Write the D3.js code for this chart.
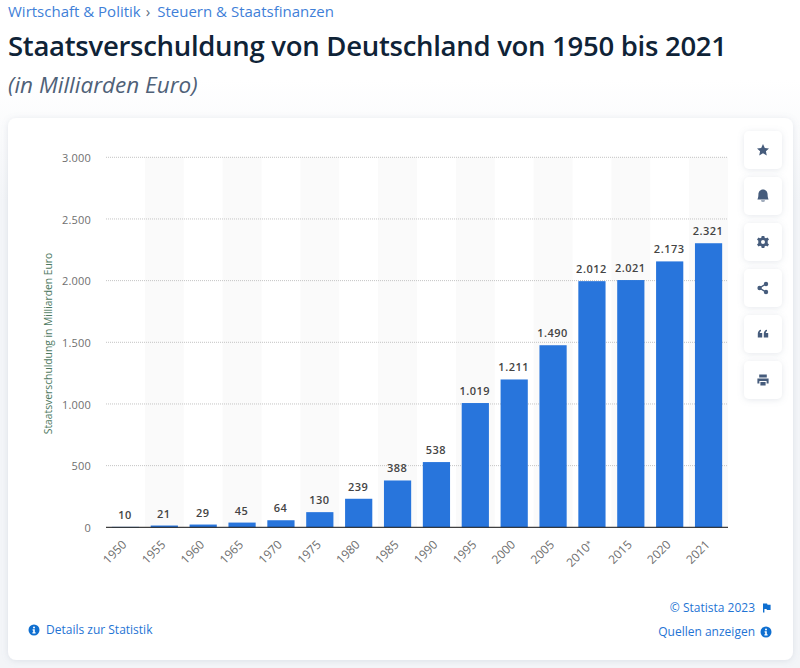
<!DOCTYPE html>
<html>
<head>
<meta charset="utf-8">
<title>Staatsverschuldung von Deutschland</title>
<script src="https://cdnjs.cloudflare.com/ajax/libs/d3/7.8.5/d3.min.js"></script>
<style>
    html, body { margin: 0; padding: 0; background: #f3f5f8; }
    svg { display: block; font-family: "Open Sans", sans-serif; }
    .domain { display: none; }
    .tick line { display: none; }
</style>
</head>
<body>
<svg id="chart" width="800" height="668"></svg>
<script>
var years = ["1950", "1955", "1960", "1965", "1970", "1975", "1980", "1985", "1990", "1995", "2000", "2005", "2010*", "2015", "2020", "2021"];
var debt = [10, 21, 29, 45, 64, 130, 239, 388, 538, 1019, 1211, 1490, 2012, 2021, 2173, 2321];
var yTicks = [0, 500, 1000, 1500, 2000, 2500, 3000];
// icons run top to bottom in the side bar
var sideIcons = ["star", "bell", "gear", "share", "quote", "print"];

var deFormat = d3.formatLocale({ decimal: ",", thousands: ".", grouping: [3], currency: ["", " €"] }).format(",d");

var svg = d3.select("#chart");

var defs = svg.append("defs");
var pageFill = defs.append("linearGradient").attr("id", "pageFill")
    .attr("x1", 0).attr("x2", 0).attr("y1", 0).attr("y2", 1);
pageFill.append("stop").attr("offset", "0.12").attr("stop-color", "#ffffff");
pageFill.append("stop").attr("offset", "0.3").attr("stop-color", "#f3f5f8");
var shadow = defs.append("filter").attr("id", "soft")
    .attr("x", "-20%").attr("y", "-20%").attr("width", "140%").attr("height", "140%");
shadow.append("feDropShadow").attr("dx", 0).attr("dy", 1).attr("stdDeviation", 3)
    .attr("flood-color", "#8a97ad").attr("flood-opacity", 0.22);

svg.append("rect").attr("width", 800).attr("height", 668).attr("fill", "url(#pageFill)");

// page header
var crumb = svg.append("text").attr("x", 8).attr("y", 17).attr("font-size", 15).attr("fill", "#3f7fd8");
crumb.append("tspan").text("Wirtschaft & Politik");
crumb.append("tspan").attr("dx", 5).attr("fill", "#5b6b82").text("›");
crumb.append("tspan").attr("dx", 7).text("Steuern & Staatsfinanzen");

svg.append("text").attr("x", 8).attr("y", 55.5)
    .attr("font-size", 27.5).attr("font-weight", 600).attr("fill", "#0f2337")
    .attr("textLength", 719).attr("lengthAdjust", "spacing")
    .text("Staatsverschuldung von Deutschland von 1950 bis 2021");

svg.append("text").attr("x", 8).attr("y", 92.5)
    .attr("font-size", 22.5).attr("font-style", "italic").attr("fill", "#4f6178")
    .text("(in Milliarden Euro)");

// card
svg.append("rect").attr("x", 8).attr("y", 118).attr("width", 785).attr("height", 542).attr("rx", 8)
    .attr("fill", "#fff").attr("filter", "url(#soft)");

var x = d3.scaleBand().domain(years).range([106, 728]).paddingInner(0.3).paddingOuter(0.15);
var band = d3.scaleBand().domain(years).range([106, 728]);
var y = d3.scaleLinear().domain([0, 3000]).range([527.3, 157.3]);
// the bars come out a little shorter than the grid says in the original
var barY = d3.scaleLinear().domain([0, 3000]).range([528.1, 159.9]);

// striped background
svg.append("g").selectAll("rect")
    .data(years.filter(function (d, i) { return i % 2 === 1; }))
    .enter().append("rect")
    .attr("x", function (d) { return band(d); })
    .attr("y", y(3000))
    .attr("width", band.bandwidth())
    .attr("height", y(0) - y(3000))
    .attr("fill", "#fafafa");

// grid
svg.append("g").selectAll("line")
    .data(yTicks.filter(function (d) { return d > 0; }))
    .enter().append("line")
    .attr("x1", 106).attr("x2", 728)
    .attr("y1", function (d) { return y(d); })
    .attr("y2", function (d) { return y(d); })
    .attr("stroke", "#c4c4c4").attr("stroke-dasharray", "1 1");

// bars
svg.append("g").selectAll("rect")
    .data(debt)
    .enter().append("rect")
    .attr("x", function (d, i) { return x(years[i]); })
    .attr("y", function (d) { return barY(d); })
    .attr("width", x.bandwidth())
    .attr("height", function (d) { return Math.max(0, y(0) - barY(d)); })
    .attr("fill", "#2875dc");

svg.append("line").attr("x1", 106).attr("x2", 728).attr("y1", y(0)).attr("y2", y(0))
    .attr("stroke", "#111").attr("stroke-width", 1);

// value labels
svg.append("g").selectAll("text")
    .data(debt)
    .enter().append("text")
    .attr("x", function (d, i) { return x(years[i]) + x.bandwidth() / 2 - 0.5; })
    .attr("y", function (d) { return barY(d) - 8; })
    .attr("text-anchor", "middle")
    .attr("font-size", 11).attr("font-weight", 600).attr("letter-spacing", 0.5)
    .attr("fill", "#444")
    .text(function (d) { return deFormat(d); });

// axes
var yAxis = svg.append("g").attr("transform", "translate(91,0.8)")
    .call(d3.axisLeft(y).tickValues(yTicks).tickSize(0).tickPadding(0).tickFormat(deFormat));
yAxis.selectAll("text")
    .attr("font-family", "'Open Sans', sans-serif").attr("font-size", 11)
    .attr("letter-spacing", 0.2).attr("fill", "#6f6f6f");

var xAxis = svg.append("g").attr("transform", "translate(0," + y(0) + ")")
    .call(d3.axisBottom(band).tickSize(0).tickPadding(0));
xAxis.selectAll("text")
    .attr("font-family", "'Open Sans', sans-serif").attr("font-size", 12)
    .attr("fill", "#6f6f6f")
    .attr("text-anchor", "end")
    .attr("dy", 0)
    .attr("transform", "translate(2,18) rotate(-45)")
    .each(function (d) {
        // the footnote star is much smaller than the year
        if (d.slice(-1) !== "*") return;
        var label = d3.select(this).text(d.slice(0, -1));
        label.append("tspan").attr("font-size", 8).attr("dy", -2).text("*");
    });

svg.append("text")
    .attr("transform", "translate(51.5,343.5) rotate(-90)")
    .attr("text-anchor", "middle").attr("font-size", 10.3).attr("fill", "#4e7a5f")
    .text("Staatsverschuldung in Milliarden Euro");

// footer links
svg.append("text").attr("x", 46).attr("y", 634).attr("font-size", 12).attr("fill", "#1f74d4").text("Details zur Statistik");
svg.append("text").attr("x", 755).attr("y", 612).attr("text-anchor", "end").attr("font-size", 12).attr("fill", "#1f74d4").text("© Statista 2023");
svg.append("text").attr("x", 755).attr("y", 636).attr("text-anchor", "end").attr("font-size", 12).attr("fill", "#1f74d4").text("Quellen anzeigen");

function infoIcon(cx, cy) {
    var g = svg.append("g").attr("transform", "translate(" + cx + "," + cy + ")");
    g.append("circle").attr("r", 5.5).attr("fill", "#0f6fd0");
    g.append("circle").attr("cy", -2.6).attr("r", 1).attr("fill", "#fff");
    g.append("path").attr("d", "M-1.4,-0.8H0.8V2.2H1.6V3.4H-1.6V2.2H-0.8V0.4H-1.4Z").attr("fill", "#fff");
}
infoIcon(34, 630);
infoIcon(766, 632);

svg.append("path").attr("transform", "translate(763,603.5)")
    .attr("d", "M0,0V9H1.4V5.5H3.4L4,6.6H7.6V1.2H4.6L4,0Z").attr("fill", "#0f6fd0");

// side buttons
var iconPaths = {
    star: "M0,-6L1.8,-2 6,-1.6 2.9,1.2 3.8,5.5 0,3.3 -3.8,5.5 -2.9,1.2 -6,-1.6 -1.8,-2Z",
    bell: "M0,-6.5C-3,-6.5 -4.6,-4 -4.6,-1.5C-4.6,1 -5,2 -5.6,3.4H5.6C5,2 4.6,1 4.6,-1.5C4.6,-4 3,-6.5 0,-6.5ZM-2,4.4H2C1.6,6 -1.6,6 -2,4.4Z",
    gear: "M-1.3,-6H1.3L1.7,-4.2 3,-3.7 4.5,-4.6 6,-2.4 4.7,-1.2V1.2L6,2.4 4.5,4.6 3,3.7 1.7,4.2 1.3,6H-1.3L-1.7,4.2 -3,3.7 -4.5,4.6 -6,2.4 -4.7,1.2V-1.2L-6,-2.4 -4.5,-4.6 -3,-3.7 -1.7,-4.2ZM0,-2A2,2 0 1 0 0,2A2,2 0 1 0 0,-2Z",
    share: "M2.5,-3.8L-2.8,-0.5V0.5L2.5,3.8",
    quote: "M-5.2,-0.2C-5.2,-2.6 -3.8,-4 -2,-4.2V-2.8C-2.8,-2.6 -3.2,-2 -3.2,-1H-0.8V3.6H-5.2ZM0.8,-0.2C0.8,-2.6 2.2,-4 4,-4.2V-2.8C3.2,-2.6 2.8,-2 2.8,-1H5.2V3.6H0.8Z",
    print: "M-3.8,-5.5H3.8V-2.4H-3.8ZM-5.6,-1.4H5.6V3.4H3.6V1H-3.6V3.4H-5.6ZM-2.6,2H2.6V5.5H-2.6Z"
};
var buttons = svg.append("g").selectAll("g")
    .data(sideIcons)
    .enter().append("g")
    .attr("transform", function (d, i) { return "translate(763," + (150 + i * 46) + ")"; });
buttons.append("rect").attr("x", -19).attr("y", -19).attr("width", 38).attr("height", 38).attr("rx", 5)
    .attr("fill", "#fff").attr("filter", "url(#soft)");
buttons.append("path")
    .attr("d", function (d) { return iconPaths[d]; })
    .attr("fill", function (d) { return d === "share" ? "none" : "#465c7c"; })
    .attr("fill-rule", "evenodd")
    .attr("stroke", function (d) { return d === "share" ? "#465c7c" : "none"; })
    .attr("stroke-width", 1.3);
var shareDots = buttons.filter(function (d) { return d === "share"; });
shareDots.append("circle").attr("cx", 3).attr("cy", -4).attr("r", 2.2).attr("fill", "#465c7c");
shareDots.append("circle").attr("cx", 3).attr("cy", 4).attr("r", 2.2).attr("fill", "#465c7c");
shareDots.append("circle").attr("cx", -3.4).attr("cy", 0).attr("r", 2.2).attr("fill", "#465c7c");
</script>
</body>
</html>
